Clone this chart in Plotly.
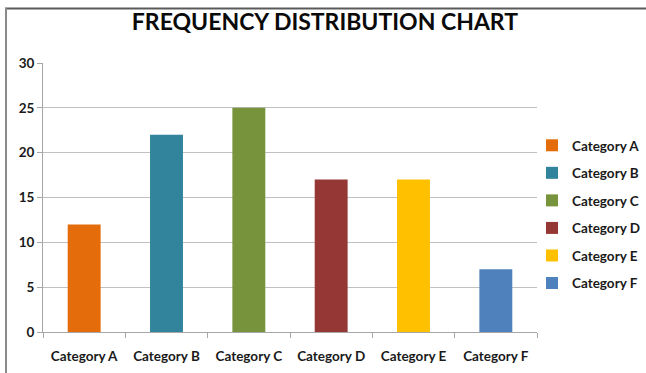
import plotly.graph_objects as go

categories = ["Category A", "Category B", "Category C", "Category D", "Category E", "Category F"]
values = [12, 22, 25, 17, 17, 7]
colors = ["#E46C0A", "#31849B", "#77933C", "#953735", "#FFC000", "#4F81BD"]
y_ticks = [0, 5, 10, 15, 20, 25, 30]
title_text = "FREQUENCY DISTRIBUTION CHART"

W, H = 646, 373
L, R, T, B = 43, 109, 63, 41
pw, ph = W - L - R, H - T - B

fig = go.Figure()
for cat, val, col in zip(categories, values, colors):
    fig.add_trace(go.Bar(x=[cat], y=[val], name=cat, marker=dict(color=col, line=dict(width=0)),
                         width=0.4, legendgroup=cat))

font_family = "Lato, 'Open Sans', sans-serif"

def px_x(p):
    return (p - L) / pw

def px_y(p):
    return (H - B - p) / ph

fig.update_layout(
    width=W, height=H,
    margin=dict(l=L, r=R, t=T, b=B, autoexpand=False),
    paper_bgcolor="white", plot_bgcolor="white",
    barmode="overlay",
    font=dict(family=font_family, size=12, color="#1a1a1a"),
    title=dict(text="<b>" + title_text + "</b>", x=0.503, xref="container", xanchor="center",
               y=1 - 22 / H, yref="container", yanchor="middle",
               font=dict(family=font_family, size=23, color="#0a0a0a", weight=900)),
    xaxis=dict(categoryorder="array", categoryarray=categories,
               showline=True, linecolor="#a6a6a6", linewidth=1,
               ticks="outside", tickson="boundaries", ticklen=5, tickcolor="#a6a6a6",
               ticklabelstandoff=12,
               tickfont=dict(family=font_family, size=13.5, color="#1a1a1a", weight="bold"),
               showgrid=False),
    yaxis=dict(range=[0, 30], tickvals=y_ticks, showgrid=True, gridcolor="#c0c0c0", gridwidth=1,
               showline=True, linecolor="#a6a6a6", linewidth=1,
               ticks="outside", ticklen=5, tickcolor="#a6a6a6",
               tickfont=dict(family=font_family, size=13.5, color="#1a1a1a", weight="bold"),
               zeroline=False),
    legend=dict(x=px_x(532), xanchor="left", y=px_y(130), yanchor="top",
                font=dict(family=font_family, size=13.5, color="#1a1a1a", weight="bold"),
                tracegroupgap=7, bgcolor="rgba(0,0,0,0)"),
    shapes=[
        dict(type="line", xref="paper", yref="paper", x0=px_x(5), x1=px_x(W + 2),
             y0=px_y(8.5), y1=px_y(8.5), line=dict(color="#5a5a5a", width=2)),
        dict(type="line", xref="paper", yref="paper", x0=px_x(6), x1=px_x(6),
             y0=px_y(8), y1=px_y(H + 2), line=dict(color="#8a8a8a", width=2)),
    ],
)

fig.write_html("out.html")
